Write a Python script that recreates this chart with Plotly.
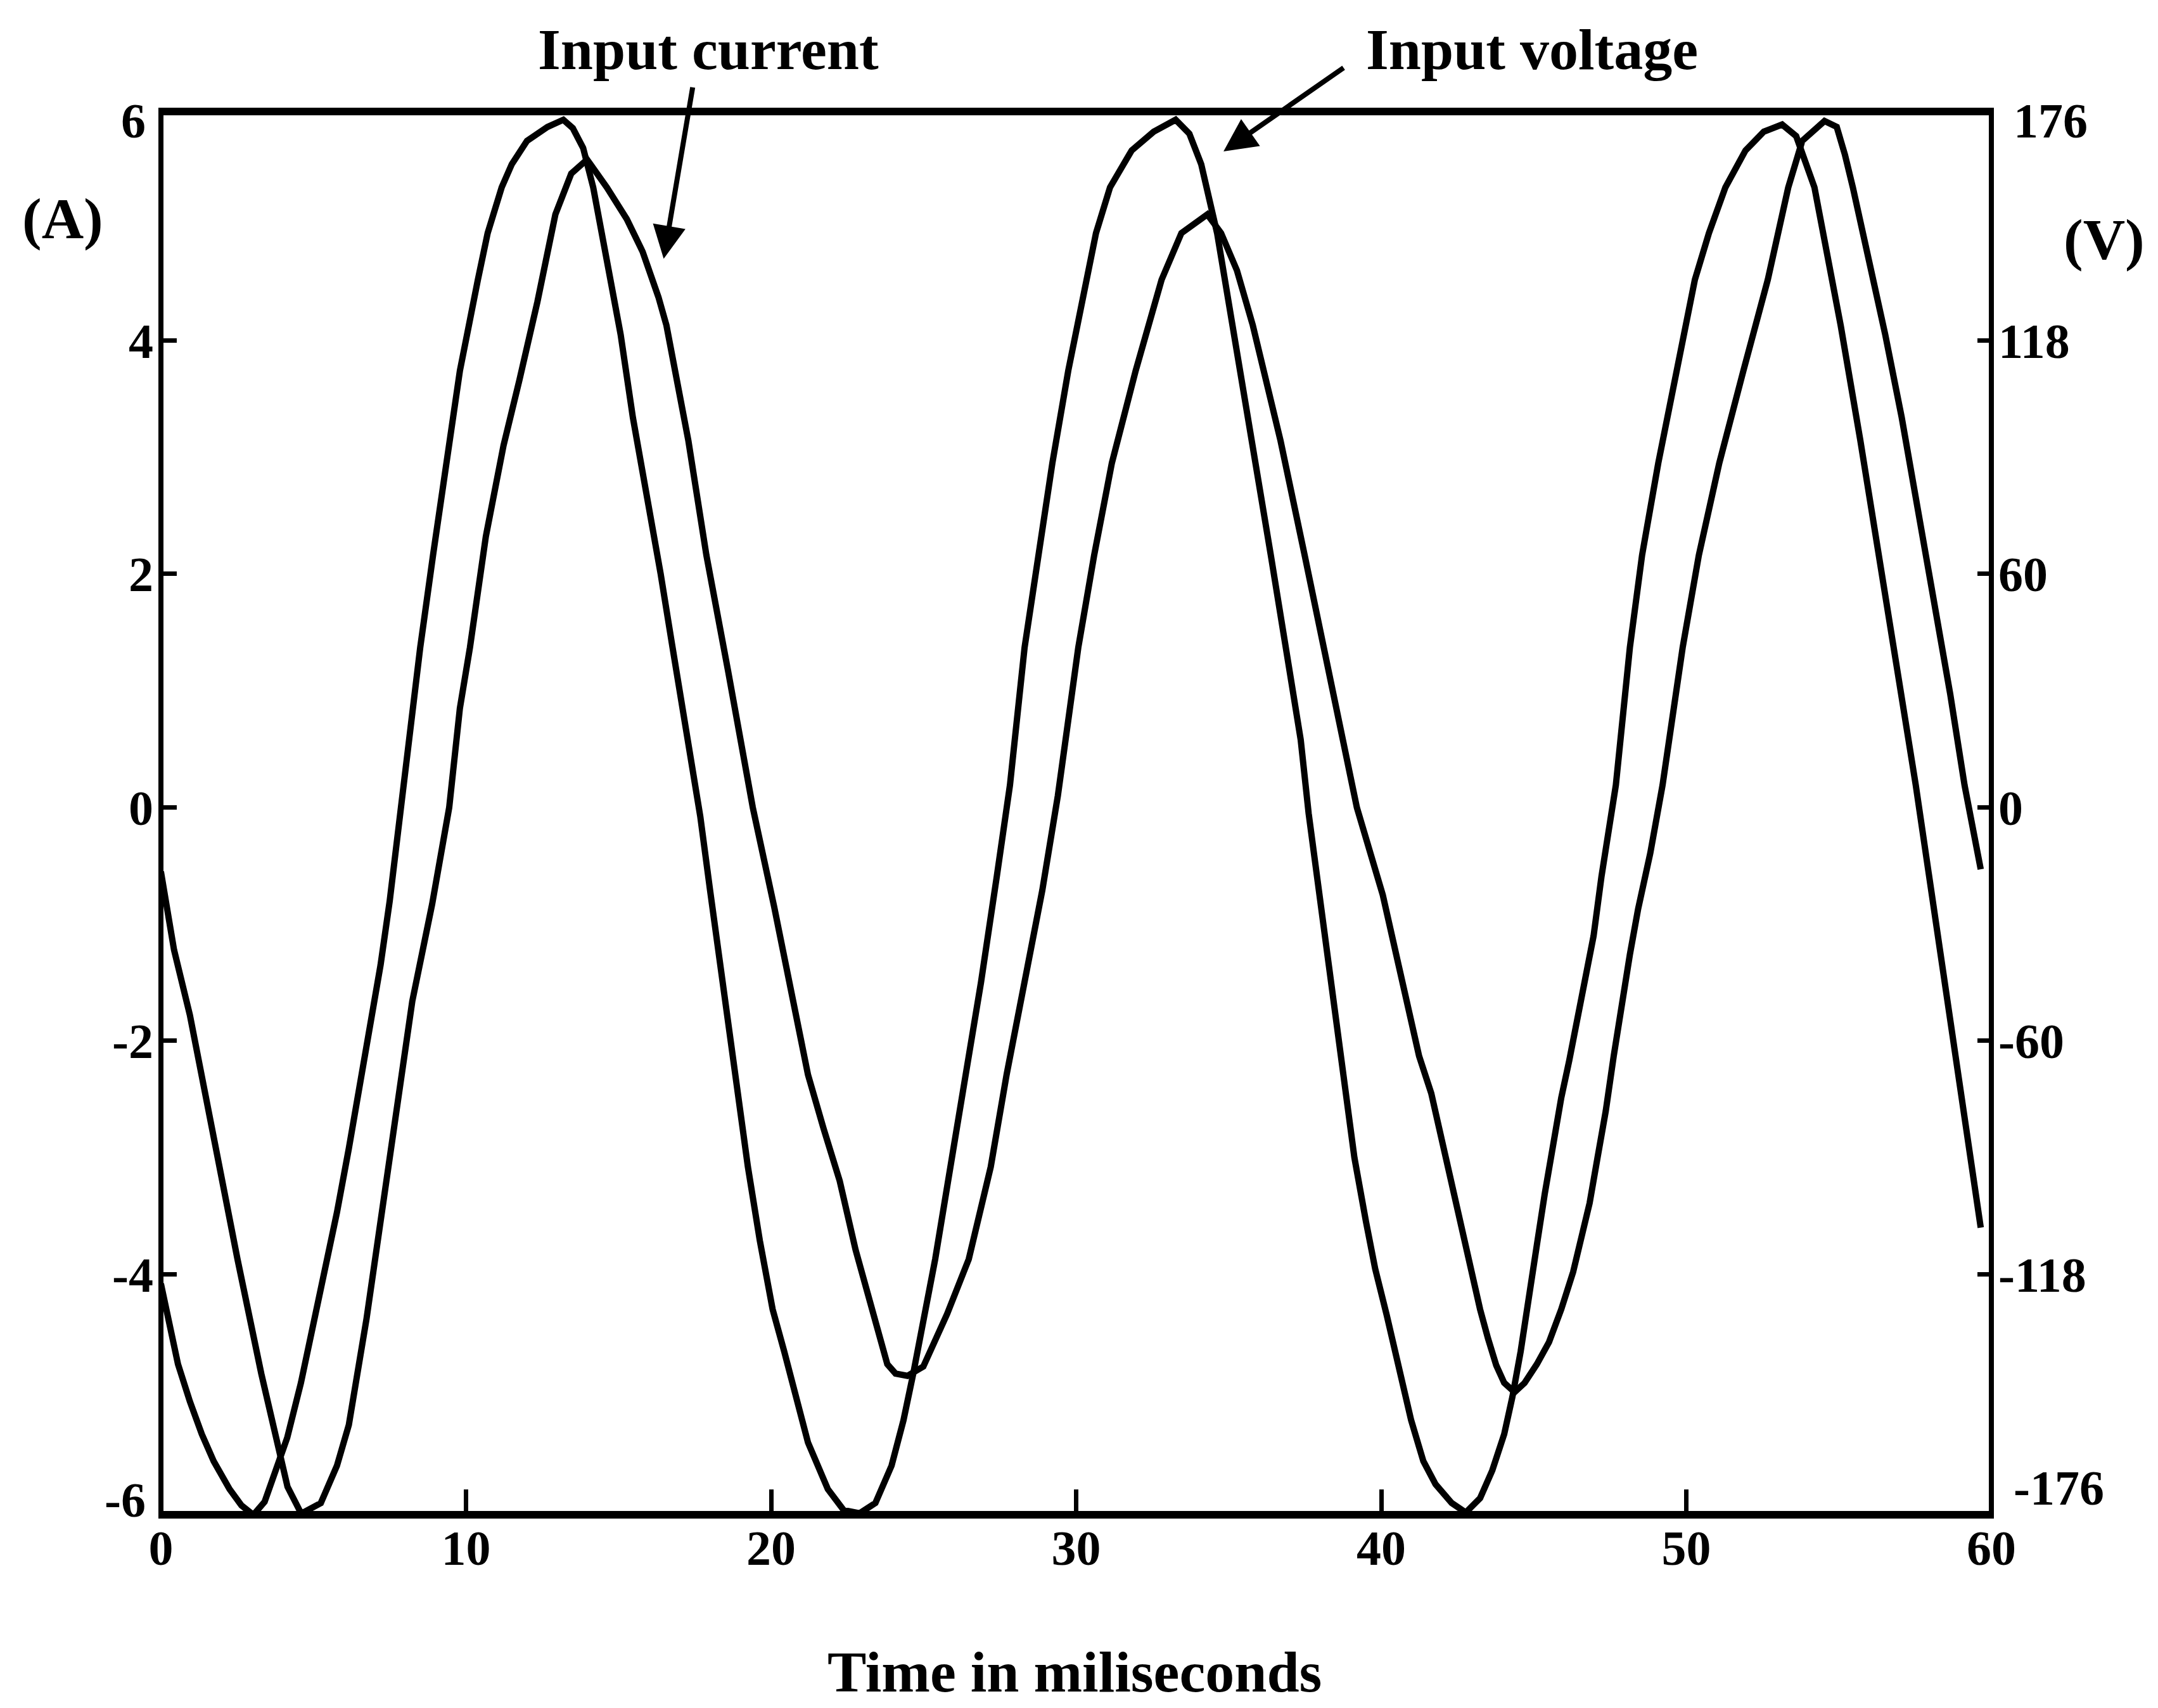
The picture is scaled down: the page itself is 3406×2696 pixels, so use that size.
import plotly.graph_objects as go

# Input voltage trace: time (ms) and instantaneous voltage (V)
time_v = [0.0, 0.56, 0.95, 1.34, 1.73, 2.25, 2.64, 3.03, 3.4, 3.8, 4.14, 4.59, 4.98, 5.38, 5.77,
          6.16, 6.81, 7.2, 7.5, 7.8, 8.0, 8.5, 8.92, 9.35, 9.8, 10.39, 10.71, 11.17, 11.5, 12.0,
          12.67, 13.19, 13.5, 13.84, 14.17, 14.62, 15.07, 15.47, 15.92, 16.38, 16.77, 17.16, 17.55,
          17.68, 18.0, 18.4, 18.85, 19.24, 19.63, 20.05, 20.43, 20.82, 21.21, 21.86, 22.38, 22.9,
          23.42, 23.95, 24.34, 24.66, 25.38, 26.03, 26.88, 27.4, 27.83, 28.31, 28.76, 29.22, 29.74,
          30.33, 30.65, 31.11, 31.82, 32.54, 33.26, 33.71, 34.1, 34.62, 35.21, 35.79, 36.38, 36.97,
          37.36, 37.62, 37.95, 38.35, 38.75, 39.12, 39.5, 39.8, 40.18, 40.45, 40.98, 41.38, 41.78,
          42.31, 42.77, 43.24, 43.64, 44.03, 44.3, 44.57, 44.83, 45.1, 45.36, 45.63, 45.9, 46.16,
          46.43, 46.69, 46.96, 47.22, 47.49, 47.69, 48.15, 48.55, 49.08, 49.68, 50.28, 50.74, 51.28,
          51.94, 52.54, 53.14, 53.6, 54.2, 55.06, 55.7, 56.33, 56.9, 57.52, 58.1, 58.65, 59.1,
          59.58, 59.65]
voltage = [-119.7, -139.9, -149.3, -157.5, -164.3, -171.3, -175.4, -177.8, -174.5, -165.7, -158.4,
           -144.6, -130.8, -116.7, -101.8, -85.7, -57.8, -39.6, -23.5, -4.4, 10.3, 40.2, 63.4, 86.5,
           109.7, 132.6, 144.3, 155.8, 161.6, 167.5, 171.0, 172.8, 170.7, 165.7, 155.8, 137.3, 118.8,
           98.0, 79.5, 58.7, 40.2, 22.9, 5.6, -2.3, -20.8, -44.0, -67.2, -90.3, -108.8, -126.1,
           -136.7, -148.1, -159.6, -171.3, -176.6, -177.4, -174.8, -165.4, -154.0, -142.3, -113.5,
           -83.3, -44.0, -17.3, 5.6, 40.2, 63.4, 86.5, 109.7, 132.6, 144.3, 155.8, 165.1, 169.8,
           172.8, 169.3, 161.6, 144.3, 117.6, 90.9, 63.4, 35.5, 17.0, -1.5, -20.8, -44.0, -67.2,
           -88.0, -104.1, -115.9, -127.6, -136.4, -154.0, -164.3, -170.1, -174.8, -177.2, -173.6,
           -166.6, -157.5, -148.1, -136.7, -122.6, -110.0, -97.1, -84.5, -73.0, -63.7, -53.1, -44.0,
           -32.3, -17.3, -3.5, 5.6, 40.2, 63.4, 86.5, 109.7, 132.6, 144.3, 155.8, 165.1, 169.8,
           171.6, 168.7, 155.8, 121.1, 92.4, 63.4, 35.2, 5.6, -24.9, -55.4, -79.2, -101.8, -105.6]

# Input current trace: time (ms) and instantaneous current (A)
time_i = [0.0, 0.43, 0.95, 1.73, 2.51, 3.29, 3.81, 4.15, 4.6, 5.24, 5.77, 6.16, 6.74, 7.2, 7.72,
          8.24, 8.89, 9.45, 9.8, 10.13, 10.65, 11.23, 11.75, 12.34, 12.93, 13.45, 13.97, 14.62,
          15.27, 15.79, 16.31, 16.57, 17.29, 17.88, 18.59, 19.24, 19.4, 20.1, 20.69, 21.21, 21.73,
          22.25, 22.77, 23.29, 23.81, 24.08, 24.47, 24.99, 25.77, 26.48, 27.2, 27.72, 28.31, 28.89,
          29.4, 30.07, 30.59, 31.17, 31.95, 32.8, 33.45, 34.3, 34.75, 35.27, 35.79, 36.7, 37.49,
          38.27, 39.05, 39.2, 40.05, 40.45, 40.85, 41.24, 41.64, 42.04, 42.44, 42.84, 43.24, 43.5,
          43.77, 44.03, 44.37, 44.7, 45.1, 45.5, 45.9, 46.29, 46.56, 46.83, 47.09, 47.36, 47.62,
          47.89, 48.15, 48.42, 48.82, 49.22, 49.88, 50.41, 51.08, 51.87, 52.67, 53.34, 53.8, 54.53,
          54.93, 55.2, 55.46, 55.99, 56.52, 57.06, 57.59, 58.12, 58.65, 59.12, 59.65]
current = [-0.55, -1.22, -1.78, -2.84, -3.87, -4.85, -5.44, -5.82, -6.05, -5.96, -5.64, -5.29,
           -4.38, -3.55, -2.64, -1.66, -0.83, 0.0, 0.85, 1.37, 2.32, 3.10, 3.66, 4.33, 5.08, 5.43,
           5.55, 5.31, 5.04, 4.76, 4.37, 4.13, 3.14, 2.16, 1.17, 0.19, 0.0, -0.85, -1.62, -2.29,
           -2.76, -3.20, -3.79, -4.30, -4.77, -4.85, -4.87, -4.79, -4.34, -3.87, -3.08, -2.29, -1.50,
           -0.71, 0.10, 1.37, 2.16, 2.95, 3.74, 4.52, 4.92, 5.08, 4.92, 4.60, 4.13, 3.14, 2.16,
           1.17, 0.19, 0.0, -0.75, -1.22, -1.66, -2.13, -2.45, -2.92, -3.39, -3.87, -4.30, -4.55,
           -4.78, -4.93, -5.01, -4.93, -4.77, -4.58, -4.30, -3.98, -3.71, -3.39, -3.00, -2.60, -2.13,
           -1.66, -1.26, -0.87, -0.39, 0.19, 1.37, 2.16, 2.95, 3.74, 4.52, 5.31, 5.71, 5.88, 5.83,
           5.59, 5.31, 4.68, 4.05, 3.34, 2.55, 1.76, 0.97, 0.19, -0.53]

time_ticks = [0, 10, 20, 30, 40, 50, 60]
amp_ticks = [-6, -4, -2, 0, 2, 4, 6]
amp_labels = ["-6", "-4", "-2", "0", "2", "4", "6"]
volt_labels = ["-176", "-118", "-60", "0", "60", "118", "176"]

V_PER_A = 176.0 / 6.0          # right scale: 6 A full scale == 176 V
Y_LO, Y_HI = -6.06, 6.005
X_LO, X_HI = -0.02, 60.04

FONT = "Liberation Serif"
INK = "black"

# plot-area geometry in pixels (used to place the frame and side labels)
W, H = 3406, 2696
L, R, T, B = 253, 261, 168, 305
PW, PH = W - L - R, H - T - B


def px(x):
    return (x - L) / PW


def py(y):
    return (H - B - y) / PH


# the +-6 A / +-176 V ticks sit under the frame, so only the inner ones get tick marks;
# their labels are placed by hand just inside the corners
inner = [(a, s, v) for a, s, v in zip(amp_ticks, amp_labels, volt_labels) if abs(a) != 6]
amp_inner = [a for a, _, _ in inner]
amp_inner_text = [s for _, s, _ in inner]
volt_inner = [a * V_PER_A for a in amp_inner]
volt_inner_text = [v for _, _, v in inner]

fig = go.Figure()
fig.add_trace(go.Scatter(x=time_i, y=current, mode="lines", yaxis="y",
                         line=dict(color=INK, width=10), name="Input current"))
fig.add_trace(go.Scatter(x=time_v, y=voltage, mode="lines", yaxis="y2",
                         line=dict(color=INK, width=10), name="Input voltage"))

tick_font = dict(family=FONT, size=78, color=INK, weight="bold")

fig.update_layout(
    width=W, height=H,
    margin=dict(l=L, r=R, t=T, b=B, pad=0),
    paper_bgcolor="white", plot_bgcolor="white",
    showlegend=False,
    font=dict(family=FONT, size=78, color=INK, weight="bold"),
    xaxis=dict(range=[X_LO, X_HI], tickvals=time_ticks, ticks="inside", ticklen=40,
               tickwidth=7, tickcolor=INK, showline=False, showgrid=False, zeroline=False,
               tickfont=tick_font, ticklabelstandoff=0),
    yaxis=dict(range=[Y_LO, Y_HI], tickvals=amp_inner, ticktext=amp_inner_text, ticks="inside",
               ticklen=26, tickwidth=7, tickcolor=INK, showline=False, showgrid=False,
               zeroline=False, tickfont=tick_font, ticklabelstandoff=10),
    yaxis2=dict(range=[Y_LO * V_PER_A, Y_HI * V_PER_A], tickvals=volt_inner,
                ticktext=volt_inner_text, overlaying="y", side="right", ticks="inside",
                ticklen=24, tickwidth=7, tickcolor=INK, showline=False, showgrid=False,
                zeroline=False, tickfont=tick_font, ticklabelstandoff=8),
)

# frame: heavier top and bottom rules, lighter sides
frame = [
    (254, 170, 254, 2397, 8),     # left
    (3143, 170, 3143, 2397, 8),   # right
    (250, 176, 3147, 176, 12),    # top
    (250, 2391, 3147, 2391, 12),  # bottom
]
for x0, y0, x1, y1, w in frame:
    fig.add_shape(type="line", xref="paper", yref="paper",
                  x0=px(x0), y0=py(y0), x1=px(x1), y1=py(y1),
                  line=dict(color=INK, width=w), layer="above")

label_font = dict(family=FONT, size=92, color=INK, weight="bold")


def text_at(text, x, y, font, xanchor="center"):
    return dict(text=text, x=px(x), y=py(y), xref="paper", yref="paper",
                showarrow=False, xanchor=xanchor, yanchor="middle", font=font)


annotations = [
    text_at("Time in miliseconds", 1696, 2639, label_font),
    text_at("(A)", 99, 345, label_font),
    text_at("(V)", 3321, 378, label_font),
    text_at("Input current", 1118, 78, label_font),
    text_at("Input voltage", 2418, 78, label_font),
    text_at(amp_labels[-1], 232, 191, tick_font, "right"),
    text_at(amp_labels[0], 232, 2367, tick_font, "right"),
    text_at(volt_labels[-1], 3176, 191, tick_font, "left"),
    text_at(volt_labels[0], 3176, 2348, tick_font, "left"),
    # pointer arrows
    dict(text="", x=16.48, y=4.70, xref="x", yref="y", ax=46, ay=-272,
         showarrow=True, arrowhead=2, arrowsize=1.3, arrowwidth=8, arrowcolor=INK, standoff=0),
    dict(text="", x=34.83, y=5.62, xref="x", yref="y", ax=191, ay=-133,
         showarrow=True, arrowhead=2, arrowsize=1.3, arrowwidth=8, arrowcolor=INK, standoff=0),
]
fig.update_layout(annotations=annotations)

fig.write_html("out.html")
